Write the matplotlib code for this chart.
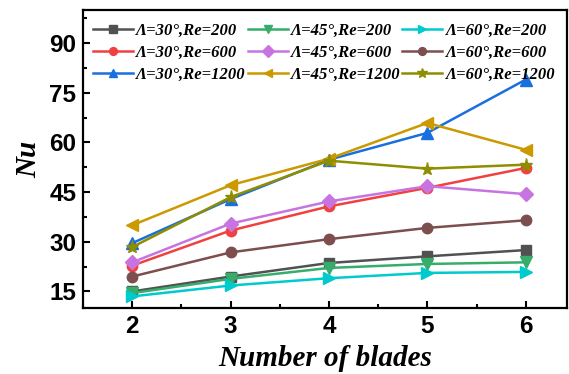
import matplotlib
matplotlib.use('Agg')
import matplotlib.pyplot as plt
from matplotlib.ticker import MultipleLocator

# number of blades
blades = [2, 3, 4, 5, 6]

# Nu values, per (sweep angle, Re)
nu_30_200 = [15.0, 19.5, 23.6, 25.6, 27.5]
nu_45_200 = [14.5, 18.8, 22.1, 23.3, 23.8]
nu_60_200 = [13.5, 16.8, 19.0, 20.6, 20.9]
nu_30_600 = [22.8, 33.4, 40.7, 46.3, 52.3]
nu_45_600 = [23.8, 35.5, 42.2, 46.8, 44.4]
nu_60_600 = [19.5, 26.8, 30.8, 34.2, 36.5]
nu_30_1200 = [29.6, 42.9, 54.8, 62.9, 79.0]
nu_45_1200 = [35.0, 47.1, 55.1, 65.9, 57.8]
nu_60_1200 = [28.4, 43.5, 54.5, 52.1, 53.3]

labels = ['Λ=30°,Re=200', 'Λ=45°,Re=200', 'Λ=60°,Re=200',
          'Λ=30°,Re=600', 'Λ=45°,Re=600', 'Λ=60°,Re=600',
          'Λ=30°,Re=1200', 'Λ=45°,Re=1200', 'Λ=60°,Re=1200']
series = [nu_30_200, nu_45_200, nu_60_200,
          nu_30_600, nu_45_600, nu_60_600,
          nu_30_1200, nu_45_1200, nu_60_1200]
colors = ['#515151', '#37AD6B', '#00CBCC',
          '#F14040', '#C774E0', '#7D4E4E',
          '#1A6FDF', '#CC9900', '#8E8E00']
markers = ['s', 'v', '>', 'o', 'D', 'o', '^', '<', '*']
msizes = [7.5, 8.5, 8.5, 7.5, 7.5, 7.5, 8.5, 8.5, 9.5]

fig = plt.figure(figsize=(5.69, 3.74), dpi=100)
ax = fig.add_axes([0.146, 0.1765, 0.8505, 0.7965])

handles = []
for y, lab, c, m, ms in zip(series, labels, colors, markers, msizes):
    h, = ax.plot(blades, y, color=c, marker=m, markersize=ms, linewidth=1.8,
                 label=lab)
    handles.append(h)

ax.set_xlim(1.5, 6.42)
ax.set_ylim(10, 100)
ax.xaxis.set_major_locator(MultipleLocator(1))
ax.xaxis.set_minor_locator(MultipleLocator(0.5))
ax.yaxis.set_major_locator(MultipleLocator(15))
ax.yaxis.set_minor_locator(MultipleLocator(7.5))
ax.tick_params(which='both', direction='in', width=1.5, top=False, right=False)
ax.tick_params(which='major', length=5, labelsize=17.5, pad=5)
ax.tick_params(which='minor', length=3)
for t in ax.get_xticklabels() + ax.get_yticklabels():
    t.set_fontweight('bold')
    t.set_family('Liberation Sans')
for s in ax.spines.values():
    s.set_linewidth(1.6)

ax.set_xlabel('Number of blades', family='Liberation Serif', fontsize=21,
              fontweight='bold', style='italic', labelpad=5)
ax.set_ylabel('Nu', family='Liberation Serif', fontsize=21,
              fontweight='bold', style='italic', labelpad=5)

# matplotlib fills legend columns first, reorder so rows read like the figure
order = [0, 3, 6, 1, 4, 7, 2, 5, 8]
ax.legend([handles[i] for i in order], [labels[i] for i in order],
          ncol=3, frameon=False, loc='upper left', bbox_to_anchor=(0.0, 0.99),
          prop={'family': 'Liberation Serif', 'weight': 'bold',
                'style': 'italic', 'size': 12},
          handlelength=2.4, handletextpad=0.2, columnspacing=0.1,
          labelspacing=0.36, borderaxespad=0.2, markerscale=0.75)

fig.savefig('out.png', dpi=100)
